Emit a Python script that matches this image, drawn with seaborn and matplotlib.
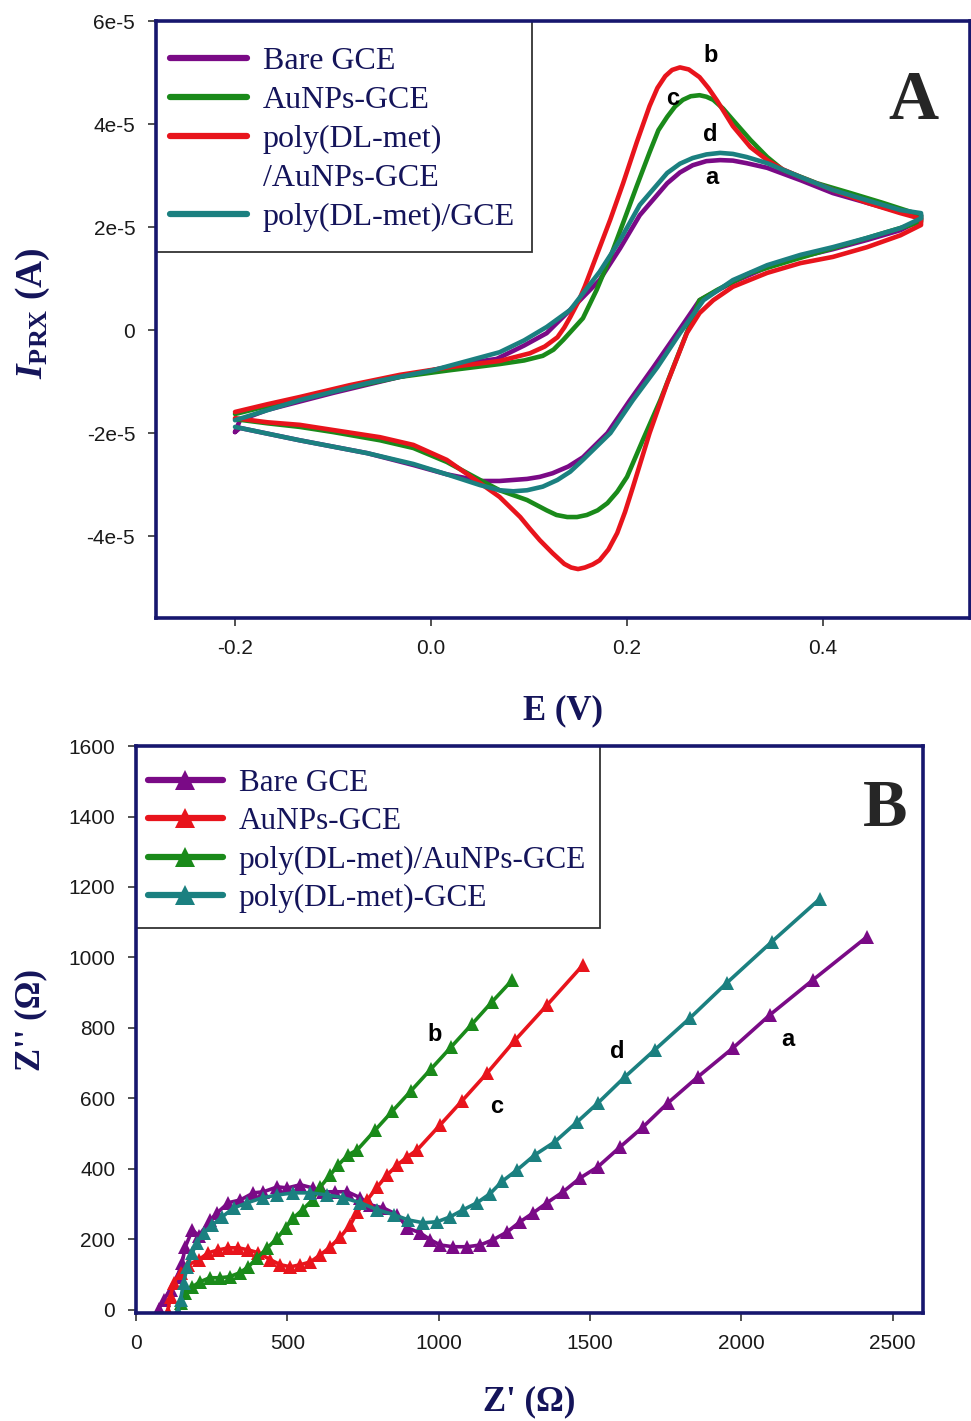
import matplotlib
matplotlib.use('Agg')
import matplotlib.pyplot as plt
from matplotlib.lines import Line2D
from matplotlib.patches import Rectangle
import seaborn as sns
import pandas as pd

# --- Panel A: cyclic voltammograms (E in V, I in microampere) ---
cv_labels = ['Bare GCE', 'AuNPs-GCE', 'poly(DL-met)/AuNPs-GCE', 'poly(DL-met)/GCE']

E_bare = [-0.200, -0.195, -0.167, -0.100, -0.032, 0.037, 0.067, 0.095, 0.118, 0.152, 0.172, 0.193, 0.213,
          0.241, 0.254, 0.267, 0.281, 0.295, 0.308, 0.322, 0.343, 0.377, 0.410, 0.445, 0.479, 0.500,
          0.500, 0.479, 0.445, 0.410, 0.377, 0.343, 0.308, 0.274, 0.251, 0.227, 0.203, 0.180, 0.155, 0.140,
          0.124, 0.111, 0.098, 0.070, 0.050, 0.016, -0.018, -0.065, -0.134, -0.195, -0.200]
I_bare = [-19.8, -17.5, -15.5, -12.2, -9.1, -6.4, -5.6, -3.0, -0.6, 5.8, 9.7, 15.9, 22.3,
          28.5, 30.6, 32.0, 32.8, 33.0, 32.9, 32.4, 31.5, 29.1, 26.6, 24.7, 22.9, 22.3,
          21.4, 19.4, 17.5, 15.7, 14.2, 12.2, 9.3, 5.8, -0.6, -7.2, -13.6, -20.0, -24.7, -26.5,
          -27.8, -28.5, -28.9, -29.3, -29.3, -28.0, -26.2, -23.9, -21.4, -19.0, -19.8]

E_au = [-0.200, -0.134, -0.032, 0.019, 0.070, 0.095, 0.114, 0.125, 0.135, 0.155, 0.169, 0.183, 0.196, 0.210,
        0.223, 0.232, 0.241, 0.249, 0.257, 0.265, 0.274, 0.281, 0.288, 0.298, 0.308, 0.326, 0.343, 0.359,
        0.394, 0.428, 0.461, 0.500,
        0.500, 0.461, 0.428, 0.394, 0.359, 0.326, 0.292, 0.274, 0.254, 0.234, 0.216, 0.200, 0.190, 0.180,
        0.170, 0.159, 0.149, 0.139, 0.128, 0.118, 0.098, 0.070, 0.050, 0.016, -0.018, -0.052, -0.100,
        -0.134, -0.167, -0.200]
I_au = [-16.3, -13.2, -9.1, -7.8, -6.6, -5.9, -5.0, -3.8, -1.9, 2.3, 7.8, 14.2, 20.8, 28.0,
        34.5, 38.8, 41.4, 43.4, 44.7, 45.4, 45.6, 45.3, 44.7, 43.0, 40.8, 36.9, 33.6, 31.1,
        28.5, 26.6, 24.7, 22.3,
        21.0, 18.8, 16.9, 15.0, 13.0, 11.1, 7.8, 5.8, -3.9, -13.6, -21.4, -28.5, -31.4, -33.6,
        -35.0, -35.9, -36.3, -36.3, -35.9, -35.0, -33.0, -31.1, -29.1, -25.6, -22.9, -21.4, -19.8,
        -18.8, -18.1, -17.3]

E_poly_au = [-0.200, -0.167, -0.134, -0.083, -0.032, 0.019, 0.070, 0.101, 0.116, 0.129, 0.136, 0.142, 0.150,
             0.157, 0.169, 0.183, 0.196, 0.210, 0.223, 0.231, 0.239, 0.246, 0.254, 0.263, 0.274, 0.283,
             0.292, 0.308, 0.326, 0.343, 0.359, 0.377, 0.410, 0.445, 0.479, 0.500,
             0.500, 0.479, 0.445, 0.410, 0.377, 0.343, 0.308, 0.288, 0.274, 0.261, 0.241, 0.223, 0.206,
             0.198, 0.190, 0.181, 0.172, 0.165, 0.157, 0.150, 0.143, 0.136, 0.124, 0.111, 0.101, 0.091,
             0.070, 0.050, 0.016, -0.018, -0.052, -0.100, -0.134, -0.167, -0.200]
I_poly_au = [-15.9, -14.4, -13.0, -10.7, -8.7, -7.2, -6.0, -4.5, -3.2, -1.4, 0.5, 2.5, 5.4,
             8.5, 14.5, 21.5, 28.5, 36.5, 43.5, 47.0, 49.3, 50.5, 51.0, 50.6, 49.1, 47.0,
             44.5, 39.6, 35.5, 33.0, 31.2, 29.7, 27.2, 24.7, 22.7, 21.6,
             20.4, 18.4, 16.1, 14.2, 13.0, 11.1, 8.4, 5.8, 3.3, -0.6, -10.3, -20.0, -30.5,
             -35.3, -39.4, -42.6, -44.7, -45.5, -46.1, -46.4, -46.1, -45.4, -43.3, -40.8, -38.6, -36.3,
             -32.4, -29.7, -25.2, -22.3, -20.8, -19.4, -18.4, -17.9, -17.1]

E_poly = [-0.200, -0.134, -0.065, 0.002, 0.070, 0.095, 0.118, 0.142, 0.172, 0.193, 0.213, 0.241, 0.254,
          0.267, 0.281, 0.295, 0.308, 0.322, 0.343, 0.377, 0.410, 0.445, 0.479, 0.500,
          0.500, 0.479, 0.445, 0.410, 0.377, 0.343, 0.308, 0.278, 0.254, 0.231, 0.206, 0.183, 0.155, 0.142,
          0.129, 0.114, 0.098, 0.084, 0.070, 0.050, 0.016, -0.018, -0.065, -0.134, -0.200]
I_poly = [-17.5, -13.6, -10.3, -7.8, -4.3, -2.0, 0.6, 3.9, 11.3, 17.5, 24.3, 30.5, 32.3,
          33.4, 34.1, 34.4, 34.2, 33.6, 32.4, 29.7, 27.2, 25.2, 23.3, 22.7,
          21.7, 19.8, 17.9, 16.1, 14.6, 12.6, 9.7, 5.8, -0.6, -7.2, -13.6, -20.0, -25.2, -27.5,
          -29.1, -30.4, -31.1, -31.3, -31.1, -30.1, -28.0, -26.0, -23.9, -21.4, -18.8]

# --- Panel B: Nyquist plots (ohm) ---
eis_labels = ['Bare GCE', 'AuNPs-GCE', 'poly(DL-met)/AuNPs-GCE', 'poly(DL-met)-GCE']

zr_bare = [75, 91, 114, 137, 152, 163, 186, 207, 246, 268, 305, 345, 388, 421, 467, 500, 543, 583, 619, 658,
           698, 741, 774, 817, 863, 896, 939, 972, 1005, 1048, 1094, 1137, 1180, 1226, 1269, 1312, 1358, 1411,
           1467, 1526, 1599, 1675, 1757, 1856, 1972, 2094, 2236, 2414]
zi_bare = [3, 28, 57, 94, 133, 179, 227, 210, 255, 275, 304, 312, 332, 335, 349, 346, 355, 346, 335, 335,
           335, 318, 298, 289, 270, 233, 218, 199, 184, 179, 179, 184, 199, 221, 250, 275, 304, 335,
           374, 406, 462, 519, 587, 661, 743, 837, 936, 1058]

zr_au = [104, 114, 124, 147, 173, 207, 239, 272, 305, 338, 371, 404, 444, 477, 510, 543, 576, 609, 642, 675,
         708, 731, 764, 797, 830, 863, 896, 929, 1005, 1078, 1160, 1253, 1358, 1477]
zi_au = [-6, 37, 77, 105, 128, 142, 162, 170, 176, 176, 170, 162, 142, 128, 122, 128, 136, 156, 179, 207,
         241, 278, 312, 349, 383, 411, 434, 454, 525, 594, 672, 766, 865, 979]

zr_poly_au = [137, 147, 163, 186, 210, 243, 276, 309, 342, 371, 401, 434, 467, 494, 520, 550, 583, 609, 642,
              668, 701, 731, 790, 847, 909, 975, 1040, 1110, 1175, 1243]
zi_poly_au = [-8, 20, 48, 65, 79, 91, 91, 94, 105, 122, 148, 176, 204, 233, 261, 284, 312, 349, 383,
              411, 440, 454, 510, 564, 622, 684, 745, 811, 873, 936]

zr_poly = [137, 147, 157, 169, 186, 200, 223, 252, 285, 322, 368, 418, 467, 520, 576, 632, 685, 741, 797,
           852, 900, 949, 995, 1038, 1081, 1127, 1170, 1210, 1259, 1318, 1384, 1457, 1526, 1615, 1714, 1830,
           1952, 2101, 2260]
zi_poly = [-6, 28, 77, 122, 162, 190, 218, 241, 264, 289, 304, 318, 326, 332, 332, 326, 318, 304, 284,
           270, 255, 247, 250, 264, 284, 304, 330, 365, 397, 440, 477, 533, 587, 661, 738, 828,
           928, 1045, 1167]

purple = '#7a0a86'
green = '#1a8a1a'
red = '#e8141c'
teal = '#1b8080'
navy = '#17176e'
textnavy = '#14145a'

cv = pd.concat([
    pd.DataFrame({'E': E_bare, 'I': I_bare, 'electrode': cv_labels[0]}),
    pd.DataFrame({'E': E_au, 'I': I_au, 'electrode': cv_labels[1]}),
    pd.DataFrame({'E': E_poly_au, 'I': I_poly_au, 'electrode': cv_labels[2]}),
    pd.DataFrame({'E': E_poly, 'I': I_poly, 'electrode': cv_labels[3]}),
], ignore_index=True)
cv['I'] = cv['I'] * 1e-6

eis = pd.concat([
    pd.DataFrame({'Zr': zr_bare, 'Zi': zi_bare, 'electrode': eis_labels[0]}),
    pd.DataFrame({'Zr': zr_au, 'Zi': zi_au, 'electrode': eis_labels[1]}),
    pd.DataFrame({'Zr': zr_poly_au, 'Zi': zi_poly_au, 'electrode': eis_labels[2]}),
    pd.DataFrame({'Zr': zr_poly, 'Zi': zi_poly, 'electrode': eis_labels[3]}),
], ignore_index=True)

sns.set_style('white')
plt.rcParams['font.family'] = ['Liberation Sans', 'DejaVu Sans']
plt.rcParams['mathtext.fontset'] = 'custom'
plt.rcParams['mathtext.rm'] = 'Liberation Serif:bold'
plt.rcParams['mathtext.bf'] = 'Liberation Serif:bold'
plt.rcParams['mathtext.it'] = 'Liberation Serif:italic:bold'

fig = plt.figure(figsize=(9.71, 14.21), dpi=100)
axA = fig.add_axes([0.1607, 0.5651, 0.8383, 0.4201])
axB = fig.add_axes([0.1401, 0.0760, 0.8105, 0.3990])

# Panel A
sns.lineplot(data=cv, x='E', y='I', hue='electrode', hue_order=cv_labels,
             palette=[purple, green, red, teal], sort=False, estimator=None,
             linewidth=3.3, solid_joinstyle='round', legend=False, ax=axA)
axA.set_xlim(-0.2806, 0.55)
axA.set_ylim(-5.59e-5, 6e-5)
axA.set_xticks([-0.2, 0.0, 0.2, 0.4])
axA.set_xticklabels(['-0.2', '0.0', '0.2', '0.4'])
axA.set_yticks([-4e-5, -2e-5, 0, 2e-5, 4e-5, 6e-5])
axA.set_yticklabels(['-4e-5', '-2e-5', '0', '2e-5', '4e-5', '6e-5'])
axA.set_xlabel('E (V)', fontsize=25, fontweight='bold', family='Liberation Serif', color=textnavy)
axA.set_ylabel(r'$\mathit{I}_{\mathbf{PRX}}$ (A)', fontsize=27, fontweight='bold',
               family='Liberation Serif', color=textnavy)
axA.xaxis.set_label_coords(0.5, -0.128)
axA.yaxis.set_label_coords(-0.128, 0.51)

# legend box drawn by hand, legend entries placed inside it
axA.add_patch(Rectangle((0, 0.613), 0.462, 0.387, transform=axA.transAxes, facecolor='white',
                        edgecolor='#333333', linewidth=1.3, zorder=4, clip_on=False))
hA = list(axA.lines[:4])
blank = Line2D([], [], color='none')
legA = axA.legend([hA[0], hA[1], hA[2], blank, hA[3]],
                  ['Bare GCE', 'AuNPs-GCE', 'poly(DL-met)', '/AuNPs-GCE', 'poly(DL-met)/GCE'],
                  loc='upper left', bbox_to_anchor=(0.0172, 0.9564), borderaxespad=0, borderpad=0,
                  prop={'family': 'Liberation Serif', 'size': 23}, labelcolor=textnavy,
                  handlelength=2.4, handletextpad=0.5, labelspacing=0.3, frameon=False)
legA.set_zorder(5)
for h in legA.get_lines():
    h.set_linewidth(4.5)
axA.text(0.930, 0.865, 'A', transform=axA.transAxes, fontsize=50, fontweight='bold',
         family='Liberation Serif', ha='center', va='center')
for lab, e, i in [('b', 0.285, 5.34e-5), ('c', 0.247, 4.50e-5), ('d', 0.285, 3.79e-5), ('a', 0.287, 2.97e-5)]:
    axA.text(e, i, lab, fontsize=17, fontweight='bold', ha='center', va='center', color='black')

# Panel B
sns.lineplot(data=eis, x='Zr', y='Zi', hue='electrode', hue_order=eis_labels,
             palette=[purple, red, green, teal], sort=False, estimator=None,
             linewidth=2.6, marker='^', markersize=10.5, markeredgewidth=0, legend=False, ax=axB)
axB.set_xlim(0, 2600)
axB.set_ylim(-9, 1600)
axB.set_xticks([0, 500, 1000, 1500, 2000, 2500])
axB.set_yticks([0, 200, 400, 600, 800, 1000, 1200, 1400, 1600])
axB.set_xlabel("Z' (Ω)", fontsize=25, fontweight='bold', family='Liberation Serif', color=textnavy)
axB.set_ylabel("Z'' (Ω)", fontsize=25, fontweight='bold', family='Liberation Serif', color=textnavy)
axB.xaxis.set_label_coords(0.5, -0.127)
axB.yaxis.set_label_coords(-0.113, 0.517)

axB.add_patch(Rectangle((0, 0.679), 0.5896, 0.321, transform=axB.transAxes, facecolor='white',
                        edgecolor='#333333', linewidth=1.3, zorder=4, clip_on=False))
legB = axB.legend(axB.lines[:4], eis_labels, loc='upper left', bbox_to_anchor=(0.0152, 0.9594),
                  borderaxespad=0, borderpad=0,
                  prop={'family': 'Liberation Serif', 'size': 22.5}, labelcolor=textnavy, numpoints=1,
                  handlelength=2.4, handletextpad=0.5, labelspacing=0.3, frameon=False)
legB.set_zorder(5)
for h in legB.get_lines():
    h.set_linewidth(4.5)
    h.set_markersize(14)
axB.text(0.952, 0.888, 'B', transform=axB.transAxes, fontsize=48, fontweight='bold',
         family='Liberation Serif', ha='center', va='center')
for lab, zr, zi in [('b', 988, 780), ('c', 1190, 576), ('d', 1589, 732), ('a', 2153, 766)]:
    axB.text(zr, zi, lab, fontsize=17, fontweight='bold', ha='center', va='center', color='black')

for ax in (axA, axB):
    for s in ax.spines.values():
        s.set_color(navy)
        s.set_linewidth(2.6)
        s.set_visible(True)
        s.set_zorder(6)
    ax.tick_params(axis='both', which='both', direction='out', length=6, width=1.2, color='#333333',
                   labelsize=15, labelcolor='#1a1a1a', pad=9, left=True, bottom=True, top=False, right=False)

fig.savefig('out.png', dpi=100)
